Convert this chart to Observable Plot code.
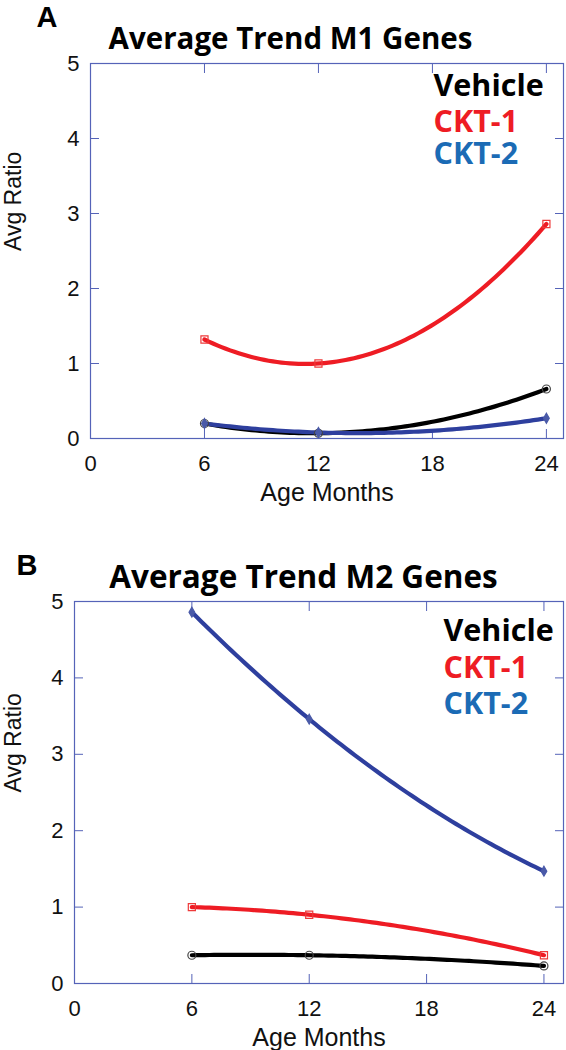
<!DOCTYPE html>
<html>
<head>
<meta charset="utf-8">
<script src="https://cdn.jsdelivr.net/npm/d3@7"></script>
<script src="https://cdn.jsdelivr.net/npm/@observablehq/plot@0.6"></script>
<style>
  html, body { margin: 0; padding: 0; background: #fff; }
  body { width: 566px; height: 1050px; overflow: hidden; }
  svg { display: block; }
</style>
</head>
<body>
<div id="chart"></div>
<script>
// ---- data ----
const months = [6, 12, 24];
const seriesNames = ["Vehicle", "CKT-1", "CKT-2"];
const m1Vehicle = [0.2, 0.07, 0.66];
const m1CKT1 = [1.32, 1.0, 2.86];
const m1CKT2 = [0.2, 0.08, 0.27];
const m2Vehicle = [0.37, 0.37, 0.23];
const m2CKT1 = [1.0, 0.9, 0.37];
const m2CKT2 = [4.86, 3.46, 1.47];
const xTicks = [0, 6, 12, 18, 24];
const xInnerTicks = [6, 12, 18, 24];
const yTicks = [0, 1, 2, 3, 4, 5];
const yInnerTicks = [1, 2, 3, 4];

// ---- style ----
const lineColors = {"Vehicle": "#000000", "CKT-1": "#ee1c24", "CKT-2": "#2e3f9e"};
const legendColors = {"Vehicle": "#000000", "CKT-1": "#ee1c24", "CKT-2": "#1b6bb5"};
const markerStroke = {"Vehicle": "#444444", "CKT-1": "#ee3a3a", "CKT-2": "#4a5aa8"};
const symbols = {"Vehicle": "circle", "CKT-1": "square", "CKT-2": "diamond"};
const frameColor = "#5563b8";
const tickFont = "'Liberation Sans', Arial, sans-serif";
const titleFont = "'Open Sans', Lato, sans-serif";

// Curve style: smooth quadratic (2nd-order polynomial) trend through the points,
// drawn in screen space (like a polyfit trend line).
function quadCurve(context) {
  let pts = [];
  return {
    areaStart() {}, areaEnd() {},
    lineStart() { pts = []; },
    point(x, y) { pts.push([+x, +y]); },
    lineEnd() {
      if (pts.length !== 3) {
        pts.forEach(([x, y], i) => i ? context.lineTo(x, y) : context.moveTo(x, y));
        return;
      }
      const [[x0, y0], [x1, y1], [x2, y2]] = pts;
      const f = x => y0 * (x - x1) * (x - x2) / ((x0 - x1) * (x0 - x2))
                   + y1 * (x - x0) * (x - x2) / ((x1 - x0) * (x1 - x2))
                   + y2 * (x - x0) * (x - x1) / ((x2 - x0) * (x2 - x1));
      const n = 80;
      for (let i = 0; i <= n; ++i) {
        const x = x0 + (x2 - x0) * i / n;
        i ? context.lineTo(x, f(x)) : context.moveTo(x, f(x));
      }
    }
  };
}

function rows(vehicle, ckt1, ckt2) {
  const out = [];
  const vals = {"Vehicle": vehicle, "CKT-1": ckt1, "CKT-2": ckt2};
  for (const s of seriesNames) months.forEach((m, i) => out.push({series: s, month: m, value: vals[s][i]}));
  return out;
}

function panel(opts) {
  const data = rows(...opts.values);
  const fmt = d => String(d);
  const marks = [
    Plot.frame({stroke: frameColor, strokeWidth: 1.2}),
    // inward ticks
    Plot.axisX(xInnerTicks, {anchor: "bottom", tickSize: -9, stroke: frameColor, text: null, label: null}),
    Plot.axisX(xInnerTicks, {anchor: "top", tickSize: -9, stroke: frameColor, text: null, label: null}),
    Plot.axisY(yInnerTicks, {anchor: "left", tickSize: -9, stroke: frameColor, text: null, label: null}),
    Plot.axisY(yInnerTicks, {anchor: "right", tickSize: -9, stroke: frameColor, text: null, label: null}),
    // tick labels
    Plot.axisX(xTicks, {anchor: "bottom", tickSize: 0, tickPadding: 17, tickFormat: fmt, fontSize: 22, fontFamily: tickFont, fill: "#111", label: null}),
    Plot.axisY(yTicks, {anchor: "left", tickSize: 0, tickPadding: 11, tickFormat: fmt, fontSize: 22, fontFamily: tickFont, fill: "#111", label: null}),
    // lines per series
    ...seriesNames.map(s => Plot.line(data.filter(d => d.series === s), {
      x: "month", y: "value", stroke: lineColors[s], strokeWidth: 4.2, curve: quadCurve
    })),
    ...seriesNames.map(s => Plot.dot(data.filter(d => d.series === s), {
      x: "month", y: "value", symbol: symbols[s], r: s === "CKT-2" ? 3 : 4,
      stroke: markerStroke[s], strokeWidth: 1.2,
      fill: s === "CKT-2" ? markerStroke[s] : "none"
    })),
    // legend
    ...seriesNames.map((s, i) => Plot.text([s], {
      frameAnchor: "top-left", text: d => d, fill: legendColors[s],
      dx: opts.legendX, dy: opts.legendY[i],
      textAnchor: "start", lineAnchor: "bottom", fontSize: 30.5, fontWeight: "bold", fontFamily: titleFont
    })),
    // title
    Plot.text([opts.title], {
      frameAnchor: "top-left", dx: opts.titleX, dy: opts.titleY, textAnchor: "middle", lineAnchor: "bottom",
      fontSize: opts.titleSize, fontWeight: "bold", fontFamily: titleFont, fill: "#000"
    }),
    Plot.text([opts.letter], {
      frameAnchor: "top-left", dx: opts.letterX, dy: opts.letterY, textAnchor: "start", lineAnchor: "bottom",
      fontSize: 29, fontWeight: "bold", fontFamily: "'Liberation Sans', Arial, sans-serif", fill: "#000"
    }),
    // axis labels
    Plot.text(["Age Months"], {
      frameAnchor: "bottom", dy: opts.xLabelDy, lineAnchor: "middle", fontSize: 25, fontFamily: tickFont, fill: "#111"
    }),
    Plot.text(["Avg Ratio"], {
      frameAnchor: "left", dx: opts.yLabelDx, rotate: -90, lineAnchor: "middle", fontSize: 23, fontFamily: tickFont, fill: "#111"
    })
  ];
  return Plot.plot({
    width: 566,
    height: opts.height,
    marginTop: opts.marginTop,
    marginBottom: opts.marginBottom,
    marginLeft: opts.marginLeft,
    marginRight: 3,
    style: {background: "#fff", overflow: "visible"},
    x: {domain: opts.xDomain, axis: null},
    y: {domain: [0, 5], axis: null},
    marks
  });
}

const chartA = panel({
  values: [m1Vehicle, m1CKT1, m1CKT2],
  title: "Average Trend M1 Genes", letter: "A", titleSize: 29.5,
  height: 525, marginTop: 63, marginBottom: 87, marginLeft: 90,
  xDomain: [0, 24.9],
  titleX: 200, titleY: -15, letterX: -54, letterY: -37,
  legendX: 343, legendY: [32, 68, 100],
  xLabelDy: 54, yLabelDx: -77
});
const chartB = panel({
  values: [m2Vehicle, m2CKT1, m2CKT2],
  title: "Average Trend M2 Genes", letter: "B", titleSize: 31.5,
  height: 525, marginTop: 76, marginBottom: 67, marginLeft: 74,
  xDomain: [0, 25],
  titleX: 229, titleY: -14, letterX: -58, letterY: -27,
  legendX: 369, legendY: [39, 76, 112],
  xLabelDy: 54, yLabelDx: -61
});
const root = document.getElementById("chart");
root.appendChild(chartA);
root.appendChild(chartB);
</script>
</body>
</html>
